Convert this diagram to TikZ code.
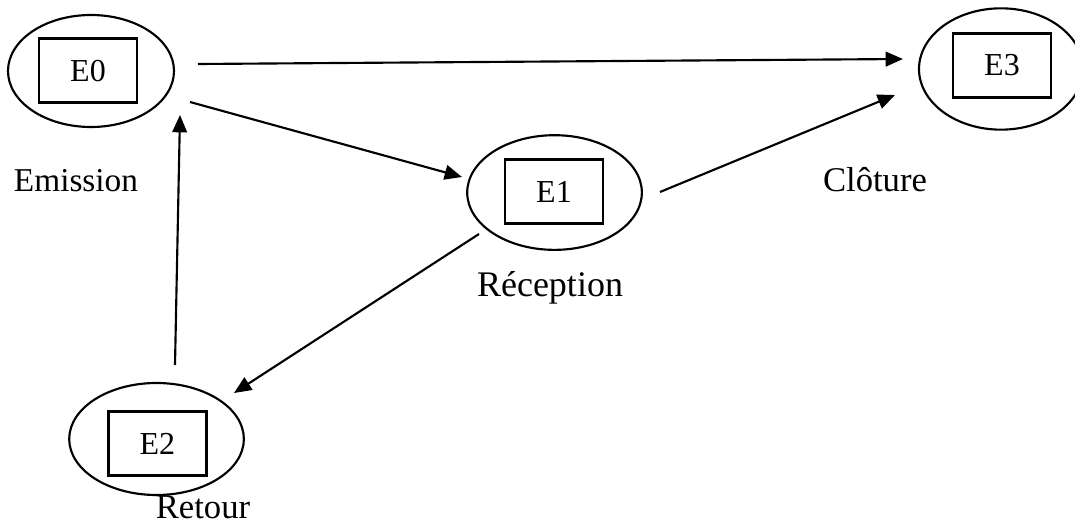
\documentclass[tikz,border=0pt]{standalone}
\usepackage{fontspec}
\setmainfont{Liberation Serif}
\usetikzlibrary{shapes.geometric,arrows.meta,calc}

\begin{document}
\begin{tikzpicture}[x=1pt,y=-1pt,
    etat/.style={draw,ellipse,line width=1.6pt,inner sep=0pt},
    boite/.style={draw,rectangle,line width=1.6pt,minimum width=73.5,minimum height=48,inner sep=0pt,font=\fontsize{24}{28}\selectfont},
    fleche/.style={-{Triangle[length=13pt,width=11pt]},line width=1.6pt},
    legende/.style={anchor=base,inner sep=0pt}]

\useasboundingbox (0,0) rectangle (806.25,395.25); % Page size

    % Draw the states (ellipse + box)
    \foreach \n/\x/\y/\w/\h in {0/68.25/53.25/124.5/84, 1/415.9/144.4/131/86, 2/117.4/329.25/131/84, 3/750.75/51.75/123/91} {
        \node[etat,minimum width=\w,minimum height=\h] (s\n) at (\x,\y) {};
    }
    \foreach \n/\x/\y in {0/66/52.9, 1/415.5/143.6, 2/118.1/332.6, 3/751.5/49.1} {
        \node[boite] (b\n) at (\x,\y) {E\n};
    }

    % Labels
\node[legende,font=\fontsize{25}{30}\selectfont] (emission) at (57,144) {Emission};
\node[legende,font=\fontsize{27}{32}\selectfont] (reception) at (412.5,222.75) {Réception};
\node[legende,font=\fontsize{26}{31}\selectfont] (cloture) at (656.25,144) {Clôture};
\node[legende,font=\fontsize{26}{31}\selectfont] (retour) at (152.25,389) {Retour};

    % Transitions
\draw[fleche] ($(s0)+(80.25,-5.25)$) -- ($(s3)+(-73.5,-7.5)$);
\draw[fleche] ($(s0)+(74.25,23.25)$) -- ($(s1)+(-69.4,-11.65)$);
\draw[fleche] ($(s1)+(79.1,-0.4)$) -- ($(s3)+(-79.5,19.5)$);
\draw[fleche] ($(s1)+(-56.65,31.1)$) -- ($(s2)+(58.1,-34.5)$);
\draw[fleche] ($(s2)+(13.85,-55.5)$) -- ($(s0)+(66.75,33)$);
    
\end{tikzpicture}
\end{document}
